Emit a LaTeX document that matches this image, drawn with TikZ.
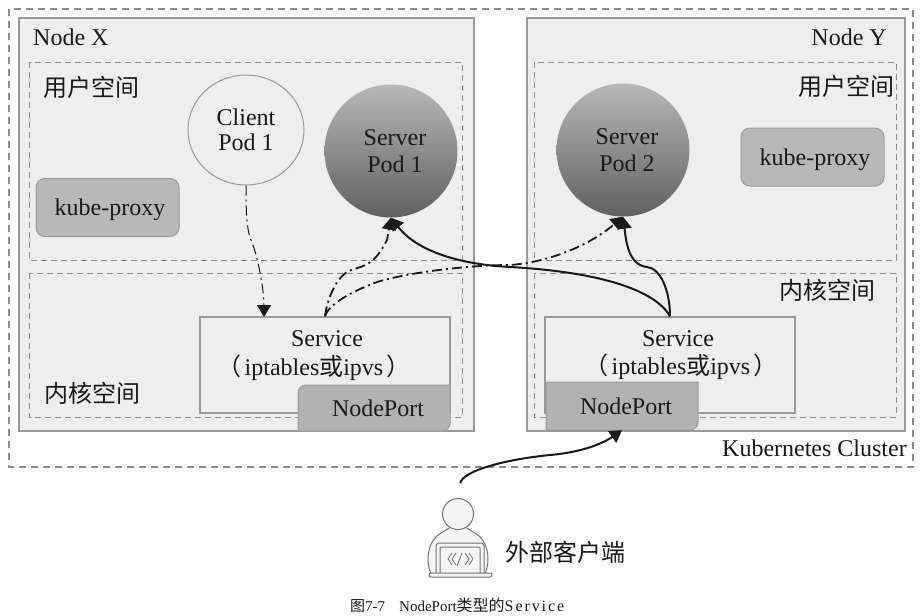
\documentclass[tikz,border=0pt]{standalone}
\usepackage{fontspec}
\setmainfont{Liberation Serif}
\newfontfamily\cjk{Noto Sans CJK SC}
\usetikzlibrary{arrows.meta,shapes.geometric}
\definecolor{nodebg}{HTML}{EEEEEE}
\definecolor{framegray}{HTML}{999999}
\definecolor{dashgray}{HTML}{8C8C8C}
\definecolor{proxygray}{HTML}{B8B8B8}
\definecolor{portgray}{HTML}{B2B2B2}
\tikzset{
  label24/.style={font=\fontsize{24}{30}\selectfont,inner sep=0pt,text=black!90},
  hostbox/.style={draw=framegray,line width=1.5pt,fill=nodebg},
  spacebox/.style={draw=dashgray,line width=1pt,dash pattern=on 6pt off 4pt},
  clusterbox/.style={draw=dashgray,line width=1.4pt,dash pattern=on 7pt off 5pt},
  proxybox/.style={label24,text depth=0pt,draw=framegray,line width=1pt,fill=proxygray,rounded corners=9pt,minimum width=143pt,minimum height=58pt},
  svcbox/.style={draw=framegray,line width=1.5pt,fill=nodebg,minimum width=250pt,minimum height=96pt},
  portbox/.style={draw=framegray,line width=1pt,fill=portgray},
  podnode/.style={label24,circle,minimum size=133pt,top color=black!28,bottom color=black!62,align=center},
  callflow/.style={-{Triangle[length=12pt,width=14pt]},black!90,line width=1.8pt,dash pattern=on 10pt off 4pt on 2pt off 4pt},
  nodeflow/.style={-{Triangle[length=12pt,width=14pt]},black!90,line width=2pt},
  iconline/.style={draw=black!55,line width=1pt,fill=nodebg!60}
}
\begin{document}
\begin{tikzpicture}[x=1pt,y=-1pt]
\useasboundingbox (0,0) rectangle (922,616);
% Draw cluster and hosts
\draw[clusterbox] (9,9) rectangle (913,467);
\draw[hostbox] (19,18) rectangle (474,431);
\draw[hostbox] (527,18) rectangle (905,431);
\draw[spacebox] (29,62) rectangle (462,260);
\draw[spacebox] (29,273) rectangle (462,417);
\draw[spacebox] (534,62) rectangle (896,260);
\draw[spacebox] (534,273) rectangle (896,417);
\node[label24,anchor=west] (nodex) at (33,37) {Node X};
\node[label24,anchor=east] (nodey) at (887,37) {Node Y};
\node[label24,anchor=west] (userx) at (43,87) {\cjk 用户空间};
\node[label24,anchor=east] (usery) at (895,86) {\cjk 用户空间};
\node[label24,anchor=west] (kernelx) at (44,393) {\cjk 内核空间};
\node[label24,anchor=east] (kernely) at (876,290) {\cjk 内核空间};
\node[label24,anchor=east] (cluster) at (907,448) {Kubernetes Cluster};

% Draw pods
\node[label24,draw=framegray,line width=1pt,fill=nodebg,ellipse,minimum width=116pt,minimum height=110pt,align=center] (client) at (246,130) {Client\\[-5pt]Pod 1};
\node[podnode] (server1) at (391,151) {\hspace*{8pt}Server\\[-3pt]\hspace*{8pt}Pod 1};
\node[podnode] (server2) at (623,150) {\hspace*{8pt}Server\\[-3pt]\hspace*{8pt}Pod 2};
\node[proxybox] (proxyx) at (107.5,207.5) {\hspace*{5pt}kube-proxy};
\node[proxybox] (proxyy) at (812.5,157) {\hspace*{5pt}kube-proxy};

% Draw services
\node[svcbox] (svcx) at (325,365) {};
\node[svcbox] (svcy) at (670,365) {};
\node[label24] (svcxname) at (327,339) {Service};
\node[label24] (svcxkind) at (314,368) {{\cjk （}\hspace{3pt}iptables{\cjk 或}ipvs\hspace{3pt}{\cjk ）}};
\node[label24] (svcyname) at (678,339) {Service};
\node[label24] (svcykind) at (681,367) {{\cjk （}\hspace{3pt}iptables{\cjk 或}ipvs\hspace{3pt}{\cjk ）}};

% Draw node ports
\draw[portbox] (298,431) [rounded corners=8pt] -- (298,385) [sharp corners] -- (450,385) [rounded corners=8pt] -- (450,431) [sharp corners] -- cycle;
\draw[portbox] (546,430) [sharp corners] -- (546,382) -- (698,382) [rounded corners=8pt] -- (698,430) [sharp corners] -- cycle;
\node[label24] (portx) at (378,408) {NodePort};
\node[label24,minimum width=152pt,minimum height=48pt] (porty) at (622,406) {\hspace*{8pt}NodePort};

% Draw traffic
\coordinate (svcxin) at (264,317);
\draw[callflow,line width=1pt] (client.south) .. controls (246,205) and (246,228) .. (251,240) .. controls (258,256) and (264,290) .. (svcxin);
\draw[callflow] (svcx.north) .. controls (327,300) and (335,280) .. (347,272) .. controls (360,265) and (372,270) .. (387,240) -- (server1.south);
\draw[callflow] (svcx.north) .. controls (328,305) and (350,292) .. (377,282) .. controls (410,272) and (470,265) .. (510,265) .. controls (550,262) and (590,245) .. (server2.south);
\draw[nodeflow] (svcy.north) .. controls (655,290) and (600,272) .. (510,267) .. controls (470,265) and (420,255) .. (server1.south);
\draw[nodeflow] (svcy.north) .. controls (670,290) and (660,268) .. (647,267) .. controls (628,265) and (626,240) .. (server2.south);

% Draw external client
\draw[iconline] (437,574) -- (431,574) .. controls (425,560) and (428,540) .. (441,533) -- (451,527) -- (465,527) -- (475,533) .. controls (488,540) and (491,560) .. (485,574) -- cycle;
\node[iconline,circle,minimum size=31pt,inner sep=0pt] (head) at (458,514) {};
\draw[iconline,rounded corners=3pt] (436,574) -- (436,543) -- (484,543) -- (484,574);
\draw[iconline,rounded corners=1pt] (440,574) -- (440,547) -- (480,547) -- (480,574);
\draw[iconline,rounded corners=2pt] (429,573) rectangle (492,577);
\draw[black!55,line width=0.8pt] (452,553) -- (448,559) -- (452,565) (456,553) -- (452,559) -- (456,565) (469,553) -- (473,559) -- (469,565) (465,553) -- (469,559) -- (465,565) (462,553) -- (457,566);
\node[label24,anchor=west] (extclient) at (505,552) {\cjk 外部客户端};
\draw[nodeflow,shorten <=15pt] (head.north) .. controls (462,472) and (500,460) .. (550,455) .. controls (585,452) and (605,442) .. (porty.south);

% Draw caption
\node[font=\fontsize{15}{18}\selectfont,inner sep=0pt,anchor=west,text=black!90] (caption) at (350,605) {{\cjk\fontsize{15}{18}\selectfont 图}7-7\hspace{14pt}NodePort{\cjk\fontsize{16}{18}\selectfont 类型的}{\fontsize{16}{18}\selectfont\addfontfeature{LetterSpace=12}Service}};
\end{tikzpicture}
\end{document}
